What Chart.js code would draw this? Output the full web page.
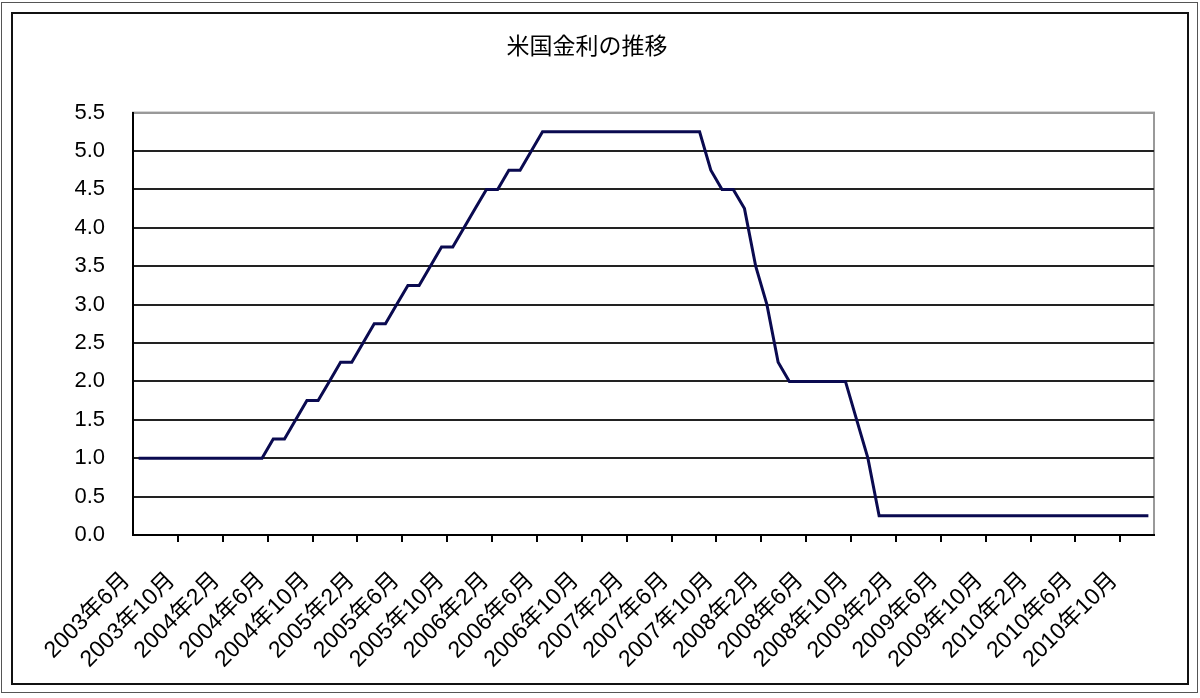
<!DOCTYPE html>
<html>
<head>
<meta charset="utf-8">
<script src="https://cdn.jsdelivr.net/npm/chart.js@4.4.1/dist/chart.umd.min.js"></script>
<style>
  body { margin: 0; background: #fff; }
  #wrap { position: relative; width: 1200px; height: 698px; }
  #chart { position: absolute; left: 0; top: 0; }
  .frame { position: absolute; box-sizing: border-box; pointer-events: none; }
  #outer { left: 1px; top: 2px; width: 1197px; height: 691px; border: 1px solid #555; }
  #inner { left: 11px; top: 12px; width: 1178px; height: 673px; border: 2px solid #111; }
</style>
</head>
<body>
<div id="wrap">
  <canvas id="chart" width="1200" height="698"></canvas>
  <div class="frame" id="outer"></div>
  <div class="frame" id="inner"></div>
</div>
<script>
const chartTitle = "米国金利の推移";

const months = [
  "2003年6月", "2003年7月", "2003年8月", "2003年9月", "2003年10月", "2003年11月", "2003年12月",
  "2004年1月", "2004年2月", "2004年3月", "2004年4月", "2004年5月", "2004年6月",
  "2004年7月", "2004年8月", "2004年9月", "2004年10月", "2004年11月", "2004年12月",
  "2005年1月", "2005年2月", "2005年3月", "2005年4月", "2005年5月", "2005年6月",
  "2005年7月", "2005年8月", "2005年9月", "2005年10月", "2005年11月", "2005年12月",
  "2006年1月", "2006年2月", "2006年3月", "2006年4月", "2006年5月", "2006年6月",
  "2006年7月", "2006年8月", "2006年9月", "2006年10月", "2006年11月", "2006年12月",
  "2007年1月", "2007年2月", "2007年3月", "2007年4月", "2007年5月", "2007年6月",
  "2007年7月", "2007年8月", "2007年9月", "2007年10月", "2007年11月", "2007年12月",
  "2008年1月", "2008年2月", "2008年3月", "2008年4月", "2008年5月", "2008年6月",
  "2008年7月", "2008年8月", "2008年9月", "2008年10月", "2008年11月", "2008年12月",
  "2009年1月", "2009年2月", "2009年3月", "2009年4月", "2009年5月", "2009年6月",
  "2009年7月", "2009年8月", "2009年9月", "2009年10月", "2009年11月", "2009年12月",
  "2010年1月", "2010年2月", "2010年3月", "2010年4月", "2010年5月", "2010年6月",
  "2010年7月", "2010年8月", "2010年9月", "2010年10月", "2010年11月", "2010年12月"
];

// rate (%) per month
const rates = [
  1.0, 1.0, 1.0, 1.0, 1.0, 1.0, 1.0,
  1.0, 1.0, 1.0, 1.0, 1.0, 1.25, 1.25, 1.5, 1.75, 1.75, 2.0, 2.25,
  2.25, 2.5, 2.75, 2.75, 3.0, 3.25, 3.25, 3.5, 3.75, 3.75, 4.0, 4.25,
  4.5, 4.5, 4.75, 4.75, 5.0, 5.25, 5.25, 5.25, 5.25, 5.25, 5.25, 5.25,
  5.25, 5.25, 5.25, 5.25, 5.25, 5.25, 5.25, 5.25, 4.75, 4.5, 4.5, 4.25,
  3.5, 3.0, 2.25, 2.0, 2.0, 2.0, 2.0, 2.0, 2.0, 1.5, 1.0, 0.25,
  0.25, 0.25, 0.25, 0.25, 0.25, 0.25, 0.25, 0.25, 0.25, 0.25, 0.25, 0.25,
  0.25, 0.25, 0.25, 0.25, 0.25, 0.25, 0.25, 0.25, 0.25, 0.25, 0.25, 0.25
];

const labelEvery = 4;   // a month label every 4 months
const yMin = 0;
const yMax = 5.5;
const yStep = 0.5;

const yFont = { family: "'Liberation Sans', 'Noto Sans CJK JP', sans-serif", size: 22 };
const xFont = { family: "'Liberation Sans', 'Noto Sans CJK JP', sans-serif", size: 23 };

// light grey plot-area frame (top and right sides)
const plotFrame = {
  id: "plotFrame",
  beforeDraw(chart) {
    const { ctx, chartArea } = chart;
    ctx.save();
    ctx.strokeStyle = "#999";
    ctx.lineWidth = 2;
    ctx.strokeRect(chartArea.left, chartArea.top, chartArea.right - chartArea.left, chartArea.bottom - chartArea.top);
    ctx.restore();
  }
};

new Chart(document.getElementById("chart"), {
  type: "line",
  data: {
    labels: months,
    datasets: [{
      data: rates,
      borderColor: "#0a0a50",
      borderWidth: 3,
      pointRadius: 0,
      tension: 0,
      fill: false
    }]
  },
  options: {
    responsive: false,
    animation: false,
    layout: { padding: { left: 20, right: 46, top: 0, bottom: 0 } },
    plugins: {
      legend: { display: false },
      tooltip: { enabled: false },
      title: {
        display: true,
        text: chartTitle,
        color: "#000",
        font: { family: "'Noto Sans CJK JP', sans-serif", size: 23, weight: "normal" },
        padding: { top: 31, bottom: 54 }
      }
    },
    scales: {
      x: {
        offset: true,
        afterFit(scale) { scale.height = 163; },
        border: { display: true, color: "#000", width: 2 },
        grid: {
          offset: true,
          drawOnChartArea: false,
          drawTicks: true,
          tickLength: 7,
          lineWidth: 2,
          color: (c) => (c.index > 0 && c.index % labelEvery === 0 ? "#000" : "rgba(0,0,0,0)")
        },
        ticks: {
          autoSkip: false,
          minRotation: 45,
          maxRotation: 45,
          padding: 25,
          labelOffset: -12,
          color: "#000",
          font: xFont,
          callback: (v, i) => (i % labelEvery === 0 ? months[i] : "")
        }
      },
      y: {
        min: yMin,
        max: yMax,
        afterFit(scale) { scale.width = 113; },
        border: { display: true, color: "#000", width: 2 },
        grid: {
          drawTicks: false,
          lineWidth: 2,
          color: (c) => (c.tick && c.tick.value === yMax ? "#999" : "#222")
        },
        ticks: {
          stepSize: yStep,
          padding: 28,
          color: "#000",
          font: yFont,
          callback: (v) => Number(v).toFixed(1)
        }
      }
    }
  },
  plugins: [plotFrame]
});
</script>
</body>
</html>
